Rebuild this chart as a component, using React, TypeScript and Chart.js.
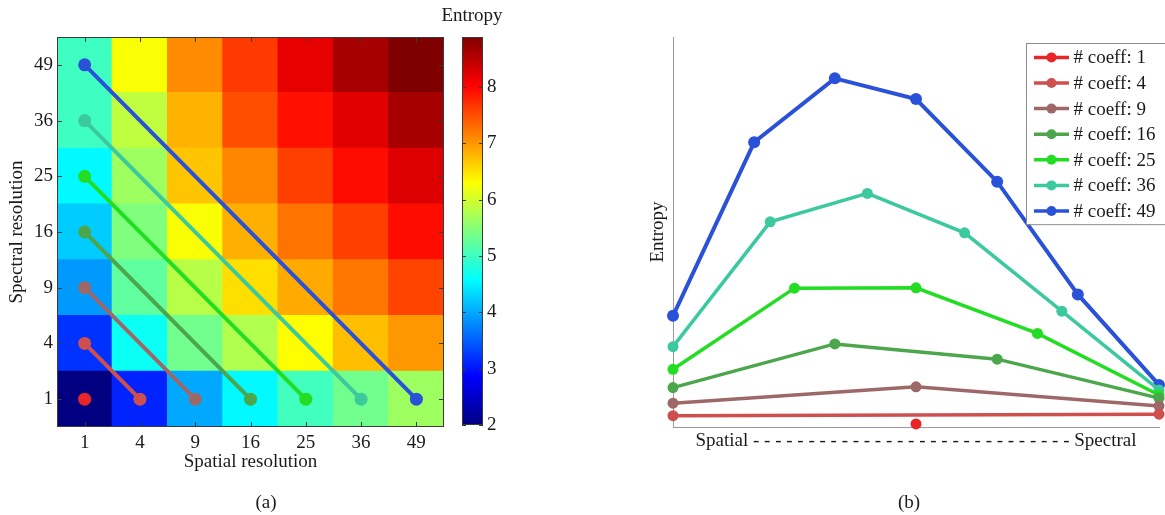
import React, { useEffect, useRef } from 'react';
import { Chart, registerables } from 'chart.js';

Chart.register(...registerables);

// ---------- Panel (a): heatmap data ----------
const spatialLabels = ['1', '4', '9', '16', '25', '36', '49'];
const spectralLabels = ['1', '4', '9', '16', '25', '36', '49'];

// entropy per spectral resolution row, columns = spatial resolution 1..49
const entropySpectral1 = [2.0, 3.1, 4.0, 4.55, 5.02, 5.35, 5.65];
const entropySpectral4 = [3.2, 4.65, 5.35, 5.78, 6.31, 6.74, 7.0];
const entropySpectral9 = [3.9, 5.23, 5.83, 6.52, 6.88, 7.23, 7.57];
const entropySpectral16 = [4.24, 5.45, 6.28, 6.85, 7.25, 7.6, 7.95];
const entropySpectral25 = [4.55, 5.65, 6.7, 7.12, 7.6, 7.95, 8.26];
const entropySpectral36 = [5.0, 5.88, 6.82, 7.5, 7.92, 8.24, 8.62];
const entropySpectral49 = [5.0, 6.28, 7.09, 7.64, 8.19, 8.62, 8.9];

const colorbarMin = 2;
const colorbarMax = 8.89;
const colorbarTicks = [2, 3, 4, 5, 6, 7, 8];

// ---------- coefficient series ----------
const coeffLabels = ['1', '4', '9', '16', '25', '36', '49'];
const coeffColors = ['#e8262a', '#cf4f4f', '#9e6868', '#4ca64c', '#22dd22', '#3cc99e', '#2a52d8'];

// ---------- Panel (b): entropy along spatial -> spectral ----------
const pos1 = [0.5];
const ent1 = [0.8];
const pos4 = [0, 1];
const ent4 = [2.9, 3.3];
const pos9 = [0, 0.5, 1];
const ent9 = [6.1, 10.3, 5.4];
const pos16 = [0, 0.333, 0.667, 1];
const ent16 = [10.1, 21.3, 17.4, 7.4];
const pos25 = [0, 0.25, 0.5, 0.75, 1];
const ent25 = [14.8, 35.6, 35.7, 24.0, 8.2];
const pos36 = [0, 0.2, 0.4, 0.6, 0.8, 1];
const ent36 = [20.6, 52.6, 59.9, 49.8, 29.7, 9.5];
const pos49 = [0, 0.167, 0.333, 0.5, 0.667, 0.833, 1];
const ent49 = [28.5, 73.0, 89.4, 84.1, 62.9, 34.0, 10.8];

const spectrumAxisText =
  'Spatial ' + '- - - - - ' + '- - - - - ' + '- - - - - ' + '- - - - - ' + '- - - - - ' + '- - - - ' + 'Spectral';

const FONT = "'Liberation Serif', 'Times New Roman', serif";
const TEXT = '#1a1a1a';

const jetStops: [number, string][] = [
  [0, '#000080'],
  [0.125, '#0000ff'],
  [0.375, '#00ffff'],
  [0.625, '#ffff00'],
  [0.875, '#ff0000'],
  [1, '#800000'],
];

function jet(v: number): string {
  const t = (v - colorbarMin) / (colorbarMax - colorbarMin);
  const c = (x: number) => Math.round(255 * Math.max(0, Math.min(1, x)));
  const r = c(1.5 - Math.abs(4 * t - 3));
  const g = c(1.5 - Math.abs(4 * t - 2));
  const b = c(1.5 - Math.abs(4 * t - 1));
  return `rgb(${r},${g},${b})`;
}

const heatFramePlugin = {
  id: 'heatFrame',
  afterDatasetsDraw(chart: any) {
    const { ctx, chartArea, scales } = chart;
    const { left, right, top, bottom } = chartArea;
    ctx.save();
    ctx.strokeStyle = '#3a3a3a';
    ctx.lineWidth = 1;
    ctx.strokeRect(left + 0.5, top + 0.5, right - left - 1, bottom - top - 1);
    const L = 5;
    ctx.beginPath();
    scales.x.ticks.forEach((_: any, i: number) => {
      const px = Math.round(scales.x.getPixelForTick(i)) + 0.5;
      ctx.moveTo(px, bottom);
      ctx.lineTo(px, bottom - L);
      ctx.moveTo(px, top);
      ctx.lineTo(px, top + L);
    });
    scales.y.ticks.forEach((t: any) => {
      const py = Math.round(scales.y.getPixelForValue(t.value)) + 0.5;
      ctx.moveTo(left, py);
      ctx.lineTo(left + L, py);
      ctx.moveTo(right, py);
      ctx.lineTo(right - L, py);
    });
    ctx.stroke();
    ctx.restore();
  },
};

const colorbarFramePlugin = {
  id: 'cbFrame',
  afterDatasetsDraw(chart: any) {
    const { ctx, chartArea, scales } = chart;
    const { left, right, top, bottom } = chartArea;
    ctx.save();
    ctx.strokeStyle = '#3a3a3a';
    ctx.lineWidth = 1;
    ctx.strokeRect(left + 0.5, top + 0.5, right - left - 1, bottom - top - 1);
    ctx.beginPath();
    scales.y.ticks.forEach((t: any) => {
      const py = Math.round(scales.y.getPixelForValue(t.value)) + 0.5;
      ctx.moveTo(left, py);
      ctx.lineTo(left + 4, py);
      ctx.moveTo(right, py);
      ctx.lineTo(right - 4, py);
    });
    ctx.stroke();
    ctx.restore();
  },
};

const boxLegendPlugin = {
  id: 'boxLegend',
  afterDatasetsDraw(chart: any) {
    const { ctx, chartArea } = chart;
    const left = chartArea.right - 133;
    const top = chartArea.top + 6;
    const rowH = 25.6;
    const n = chart.data.datasets.length;
    ctx.save();
    ctx.fillStyle = '#ffffff';
    ctx.fillRect(left, top, 160, n * rowH + 2);
    ctx.strokeStyle = '#8a8a8a';
    ctx.lineWidth = 1;
    ctx.strokeRect(left + 0.5, top + 0.5, 160, n * rowH + 2);
    chart.data.datasets.forEach((ds: any, i: number) => {
      const y = top + 14.4 + i * rowH;
      ctx.strokeStyle = ds.borderColor;
      ctx.lineWidth = 3.5;
      ctx.beginPath();
      ctx.moveTo(left + 8, y);
      ctx.lineTo(left + 43, y);
      ctx.stroke();
      ctx.fillStyle = ds.borderColor;
      ctx.beginPath();
      ctx.arc(left + 25.5, y, 5, 0, Math.PI * 2);
      ctx.fill();
      ctx.fillStyle = TEXT;
      ctx.font = `19px ${FONT}`;
      ctx.textBaseline = 'middle';
      ctx.textAlign = 'left';
      ctx.fillText(ds.label, left + 47.5, y + 1);
    });
    ctx.restore();
  },
};

function HeatmapPanel() {
  const ref = useRef<HTMLCanvasElement>(null);
  useEffect(() => {
    if (!ref.current) return;
    const heatRows = [
      entropySpectral1,
      entropySpectral4,
      entropySpectral9,
      entropySpectral16,
      entropySpectral25,
      entropySpectral36,
      entropySpectral49,
    ];
    const rowCenter = (label: string) => spectralLabels.indexOf(label) + 0.5;
    const lineSets = coeffLabels.map((lab, i) => ({
      type: 'line',
      label: `# coeff: ${lab}`,
      data:
        lab === '1'
          ? [{ x: '1', y: rowCenter('1') }]
          : [
              { x: '1', y: rowCenter(lab) },
              { x: lab, y: rowCenter('1') },
            ],
      borderColor: coeffColors[i],
      backgroundColor: coeffColors[i],
      pointBackgroundColor: coeffColors[i],
      pointBorderWidth: 0,
      pointRadius: 6.5,
      borderWidth: 4,
      order: 0,
    }));
    const barSets = heatRows.map((row, j) => ({
      type: 'bar',
      label: `spectral ${spectralLabels[j]}`,
      data: row.map(() => [j, j + 1]),
      backgroundColor: row.map(jet),
      barPercentage: 1,
      categoryPercentage: 1,
      grouped: false,
      borderWidth: 0,
      inflateAmount: 0.6,
      order: 1,
    }));
    const chart = new Chart(ref.current, {
      type: 'bar',
      data: { labels: spatialLabels, datasets: [...lineSets, ...barSets] as any },
      options: {
        animation: false,
        responsive: false,
        events: [],
        layout: { padding: { left: 0, top: 37, right: 11, bottom: 38 } },
        plugins: { legend: { display: false }, tooltip: { enabled: false } },
        scales: {
          x: {
            type: 'category',
            offset: true,
            grid: { display: false, drawTicks: false },
            border: { display: false },
            ticks: { padding: 5, color: TEXT, font: { family: FONT, size: 19 } },
            title: {
              display: true,
              text: 'Spatial resolution',
              color: TEXT,
              font: { family: FONT, size: 19 },
              padding: { top: 0, bottom: 3.6 },
            },
            afterFit: (s: any) => {
              s.height = 50;
            },
          },
          y: {
            type: 'linear',
            min: 0,
            max: 7,
            grid: { display: false, drawTicks: false },
            border: { display: false },
            afterBuildTicks: (s: any) => {
              s.ticks = spectralLabels.map((_, i) => ({ value: i + 0.5 }));
            },
            ticks: {
              padding: 4,
              color: TEXT,
              font: { family: FONT, size: 19 },
              callback: (_v: any, i: number) => spectralLabels[i],
            },
            title: {
              display: true,
              text: 'Spectral resolution',
              color: TEXT,
              font: { family: FONT, size: 19 },
              padding: { top: 6, bottom: 0 },
            },
            afterFit: (s: any) => {
              s.width = 57;
            },
          },
        },
      } as any,
      plugins: [heatFramePlugin],
    });
    return () => chart.destroy();
  }, []);
  return (
    <canvas
      ref={ref}
      width={455}
      height={515}
      style={{ position: 'absolute', left: 0, top: 0, width: 455, height: 515 }}
    />
  );
}

function ColorbarPanel() {
  const ref = useRef<HTMLCanvasElement>(null);
  useEffect(() => {
    if (!ref.current) return;
    const chart = new Chart(ref.current, {
      type: 'bar',
      data: {
        labels: ['Entropy'],
        datasets: [
          {
            label: 'Entropy',
            data: [[colorbarMin, colorbarMax]] as any,
            barPercentage: 1,
            categoryPercentage: 1,
            borderWidth: 0,
            backgroundColor: (c: any) => {
              const ch = c.chart;
              if (!ch.chartArea || !ch.scales.y) return '#000080';
              const y = ch.scales.y;
              const g = ch.ctx.createLinearGradient(
                0,
                y.getPixelForValue(colorbarMin),
                0,
                y.getPixelForValue(colorbarMax)
              );
              jetStops.forEach(([t, col]) => g.addColorStop(t, col));
              return g;
            },
          },
        ],
      },
      options: {
        animation: false,
        responsive: false,
        events: [],
        layout: { padding: { left: 22, top: 37, right: 0, bottom: 90 } },
        plugins: { legend: { display: false }, tooltip: { enabled: false } },
        scales: {
          x: { display: false, offset: true },
          y: {
            position: 'right',
            min: colorbarMin,
            max: colorbarMax,
            grid: { display: false, drawTicks: false },
            border: { display: false },
            afterBuildTicks: (s: any) => {
              s.ticks = colorbarTicks.map((v) => ({ value: v }));
            },
            ticks: { padding: 4, color: TEXT, font: { family: FONT, size: 19 } },
            afterFit: (s: any) => {
              s.width = 77;
            },
          },
        },
      } as any,
      plugins: [colorbarFramePlugin],
    });
    return () => chart.destroy();
  }, []);
  return (
    <canvas
      ref={ref}
      width={120}
      height={515}
      style={{ position: 'absolute', left: 440, top: 0, width: 120, height: 515 }}
    />
  );
}

function ProfilePanel() {
  const ref = useRef<HTMLCanvasElement>(null);
  useEffect(() => {
    if (!ref.current) return;
    const positions = [pos1, pos4, pos9, pos16, pos25, pos36, pos49];
    const entropies = [ent1, ent4, ent9, ent16, ent25, ent36, ent49];
    const datasets = coeffLabels.map((lab, i) => ({
      label: `# coeff: ${lab}`,
      data: positions[i].map((x, k) => ({ x, y: entropies[i][k] })),
      borderColor: coeffColors[i],
      backgroundColor: coeffColors[i],
      pointBackgroundColor: coeffColors[i],
      pointBorderWidth: 0,
      pointRadius: lab === '49' ? 6 : 5.5,
      borderWidth: lab === '49' ? 4 : 3.5,
      clip: false,
    }));
    const chart = new Chart(ref.current, {
      type: 'line',
      data: { datasets },
      options: {
        animation: false,
        responsive: false,
        events: [],
        layout: { padding: { left: 36, top: 37, right: 3, bottom: 60 } },
        plugins: { legend: { display: false }, tooltip: { enabled: false } },
        scales: {
          x: {
            type: 'linear',
            min: 0,
            max: 1,
            grid: { display: false, drawTicks: false },
            border: { display: true, color: '#9a9a9a', width: 1 },
            ticks: { display: false },
            title: {
              display: true,
              text: spectrumAxisText,
              color: TEXT,
              font: { family: FONT, size: 19 },
              padding: { top: 0, bottom: 2.6 },
            },
            afterFit: (s: any) => {
              s.height = 28;
            },
          },
          y: {
            type: 'linear',
            min: 0,
            max: 100,
            grid: { display: false, drawTicks: false },
            border: { display: true, color: '#9a9a9a', width: 1 },
            ticks: { display: false },
            title: {
              display: true,
              text: 'Entropy',
              color: TEXT,
              font: { family: FONT, size: 19 },
              padding: { top: 10.6, bottom: 0 },
            },
            afterFit: (s: any) => {
              s.width = 37;
            },
          },
        },
      } as any,
      plugins: [boxLegendPlugin],
    });
    return () => chart.destroy();
  }, []);
  return (
    <canvas
      ref={ref}
      width={565}
      height={515}
      style={{ position: 'absolute', left: 600, top: 0, width: 565, height: 515 }}
    />
  );
}

const labelStyle: React.CSSProperties = {
  position: 'absolute',
  transform: 'translate(-50%, -50%)',
  fontFamily: FONT,
  fontSize: 19,
  lineHeight: 1,
  color: TEXT,
  whiteSpace: 'nowrap',
};

export default function App() {
  return (
    <div
      style={{
        position: 'absolute',
        left: 0,
        top: 0,
        width: 1165,
        height: 515,
        background: '#ffffff',
        overflow: 'hidden',
      }}
    >
      <HeatmapPanel />
      <ColorbarPanel />
      <ProfilePanel />
      <div style={{ ...labelStyle, left: 472, top: 14 }}>Entropy</div>
      <div style={{ ...labelStyle, left: 266, top: 501 }}>(a)</div>
      <div style={{ ...labelStyle, left: 909, top: 501 }}>(b)</div>
    </div>
  );
}
